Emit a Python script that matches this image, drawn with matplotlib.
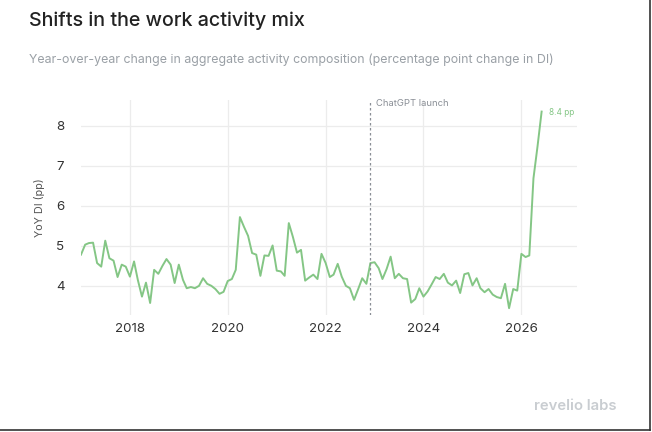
import pandas as pd
import matplotlib.pyplot as plt
import matplotlib.dates as mdates
from matplotlib.lines import Line2D

# monthly YoY change in DI (pp), Jan 2017 .. Jun 2026
start_month = "2017-01-01"
yoy_di = [
    4.78, 5.03, 5.07, 5.08, 4.57, 4.48, 5.13, 4.69, 4.63, 4.22, 4.53, 4.48,
    4.23, 4.61, 4.15, 3.73, 4.08, 3.57, 4.40, 4.30, 4.50, 4.67, 4.53, 4.07,
    4.53, 4.15, 3.94, 3.97, 3.94, 4.00, 4.19, 4.05, 4.00, 3.92, 3.80, 3.85,
    4.12, 4.17, 4.40, 5.72, 5.48, 5.25, 4.82, 4.78, 4.25, 4.76, 4.75, 5.01,
    4.38, 4.36, 4.25, 5.57, 5.23, 4.83, 4.90, 4.13, 4.21, 4.28, 4.17, 4.80,
    4.57, 4.22, 4.28, 4.55, 4.23, 4.00, 3.94, 3.65, 3.92, 4.19, 4.05, 4.57,
    4.59, 4.44, 4.17, 4.42, 4.73, 4.19, 4.30, 4.19, 4.17, 3.58, 3.67, 3.94,
    3.73, 3.86, 4.03, 4.22, 4.17, 4.30, 4.08, 4.01, 4.13, 3.82, 4.29, 4.32,
    4.01, 4.19, 3.94, 3.84, 3.92, 3.78, 3.72, 3.69, 4.05, 3.44, 3.92, 3.88,
    4.80, 4.72, 4.76, 6.69, 7.48, 8.36,
]
tick_years = [2018, 2020, 2022, 2024, 2026]
y_ticks = [4, 5, 6, 7, 8]
chatgpt_date = "2022-11-30"
end_label = "8.4 pp"

dates = pd.date_range(start_month, periods=len(yoy_di), freq="MS")
df = pd.DataFrame({"date": dates, "yoy": yoy_di})

plt.rcParams["font.family"] = ["Inter", "DejaVu Sans"]

green = "#84c685"
grid_c = "#ececec"

fig = plt.figure(figsize=(6.52, 4.32), dpi=100)
ax = fig.add_axes([81 / 652, 1 - 315 / 432, (577 - 81) / 652, (315 - 100) / 432])

ax.plot(df["date"], df["yoy"], color=green, lw=1.4)

# ChatGPT launch marker
launch = pd.Timestamp(chatgpt_date)
ax.axvline(launch, color="#8a8f96", lw=0.9, ls=(0, (2, 2)))
ax.text(launch + pd.Timedelta(days=40), 8.55, "ChatGPT launch", fontsize=6.8,
        color="#8a8f96", va="center", ha="left")

# end value label
last = df.iloc[-1]
ax.text(last["date"] + pd.Timedelta(days=55), 8.33, end_label, fontsize=6,
        color=green, va="center", ha="left")

ax.set_xlim(pd.Timestamp("2017-01-01"), pd.Timestamp("2027-02-20"))
ax.set_ylim(3.27, 8.65)
ax.set_xticks([pd.Timestamp(f"{y}-01-01") for y in tick_years])
ax.xaxis.set_major_formatter(mdates.DateFormatter("%Y"))
ax.set_yticks(y_ticks)
ax.grid(True, color=grid_c, lw=0.9)
ax.set_axisbelow(True)
for s in ax.spines.values():
    s.set_visible(False)
ax.tick_params(length=0, labelsize=9.6, colors="#333333", pad=6)
ax.tick_params(axis="y", pad=12)
ax.set_ylabel("YoY DI (pp)", fontsize=7.8, color="#555555", labelpad=8)

fig.text(29 / 652, 1 - 21 / 432, "Shifts in the work activity mix", fontsize=14.2,
         fontweight="medium", color="#222222", va="center", ha="left")
fig.text(29 / 652, 1 - 60 / 432,
         "Year-over-year change in aggregate activity composition (percentage point change in DI)",
         fontsize=8.9, color="#9aa0a6", va="center", ha="left")
fig.text(617 / 652, 1 - 406 / 432, "revelio labs", fontsize=10.7, fontweight="semibold",
         color="#c9cdd1", va="center", ha="right")

# screenshot border on right and bottom
fig.add_artist(Line2D([649.5 / 652, 649.5 / 652], [1 - 430 / 432, 1], color="#333333", lw=1.2))
fig.add_artist(Line2D([0, 649.5 / 652], [1 - 430 / 432, 1 - 430 / 432], color="#333333", lw=1.2))

fig.savefig("out.png", dpi=100, facecolor="white")
